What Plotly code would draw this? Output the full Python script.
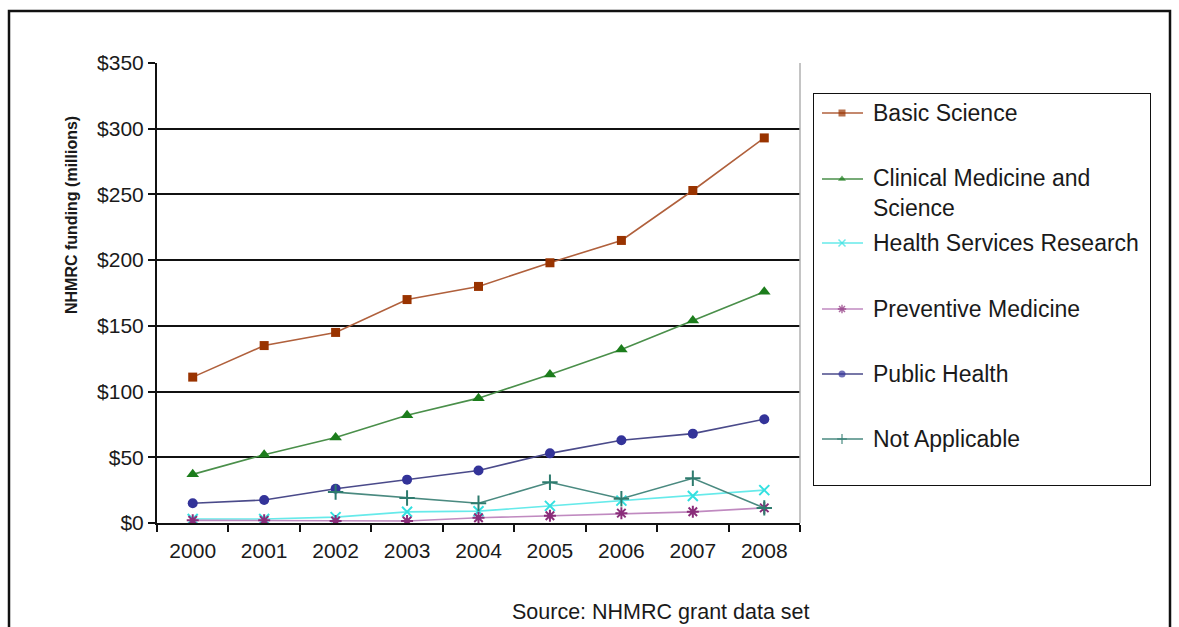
import plotly.graph_objects as go

# NHMRC funding by research area, in $ millions
years = ["2000", "2001", "2002", "2003", "2004", "2005", "2006", "2007", "2008"]
basic_science = [111, 135, 145, 170, 180, 198, 215, 253, 293]
clinical_medicine = [37, 52, 65, 82, 95, 113, 132, 154, 176]
health_services = [3, 3, 4.5, 8.5, 9, 13, 17, 20.5, 25]
preventive_medicine = [2, 2, 1.5, 1.5, 4, 5.5, 7.5, 8.5, 11.5]
public_health = [15, 17.5, 26, 33, 40, 53, 63, 68, 79]
not_applicable = [None, None, 23.5, 19, 15, 31, 18.5, 34, 11.5]

series_names = ["Basic Science", "Clinical Medicine and<br>Science",
                "Health Services Research", "Preventive Medicine",
                "Public Health", "Not Applicable"]
series_values = [basic_science, clinical_medicine, health_services,
                 preventive_medicine, public_health, not_applicable]

y_ticks = [0, 50, 100, 150, 200, 250, 300, 350]
y_tick_labels = ["&#36;" + str(v) for v in y_ticks]

# styling per series: (marker colour, line colour, symbol, size)
styles = [
    ("#993300", "#b0603c", "square", 9),
    ("#1c7d1c", "#4a8f4a", "triangle-up", 11),
    ("#33e0e0", "#66eaea", "x-thin-open", 10),
    ("#8a2d7a", "#c08ac0", "asterisk-open", 10),
    ("#333399", "#4a4a8a", "circle", 10),
    ("#2e7b6e", "#4a8a80", "cross-thin-open", 11),
]

FONT = "Liberation Sans, Arial, sans-serif"
TXT = "#1a1a1a"

W, H = 1179, 627
ML, MR, MT, MB = 157, 28, 63, 104
PW = W - ML - MR
PH = H - MT - MB
plot_right = 800


def px_x(p):
    return (p - ML) / PW


def px_y(p):
    return (H - MB - p) / PH


fig = go.Figure()

for name, vals, (mc, lc, sym, sz) in zip(series_names, series_values, styles):
    open_sym = sym.endswith("open")
    fig.add_trace(go.Scatter(
        x=years, y=vals, mode="lines+markers", name=name.replace("<br>", " "),
        line=dict(color=lc, width=1.6),
        marker=dict(symbol=sym, size=sz, color=mc,
                    line=dict(color=mc, width=2 if open_sym else 0)),
        connectgaps=False, showlegend=False, xaxis="x", yaxis="y",
    ))

# legend drawn on its own pixel-scaled axes
leg_left, leg_right, leg_top, leg_bottom = 813, 1151, 93, 486
key_rows = [113, 179, 243, 309, 374, 439]
text_rows = [113, 193.5, 243, 309, 374, 439]
for i, (name, (mc, lc, sym, sz)) in enumerate(zip(series_names, styles)):
    open_sym = sym.endswith("open")
    fig.add_trace(go.Scatter(
        x=[822, 842, 863], y=[key_rows[i]] * 3, mode="lines+markers",
        line=dict(color=lc, width=1.6),
        marker=dict(symbol=sym, size=[0, 7, 0], color=mc,
                    line=dict(color=mc, width=1.5 if open_sym else 0)),
        showlegend=False, hoverinfo="skip", xaxis="x2", yaxis="y2",
    ))
    fig.add_annotation(x=871, y=text_rows[i], xref="x2", yref="y2",
                       text=name, showarrow=False, xanchor="left",
                       yanchor="middle", align="left",
                       font=dict(family=FONT, size=23, color=TXT))

fig.add_shape(type="rect", xref="x2", yref="y2", x0=leg_left, x1=leg_right,
              y0=leg_top, y1=leg_bottom, line=dict(color="#111", width=2))

# right edge of the plotting area
fig.add_shape(type="line", xref="paper", yref="paper",
              x0=px_x(plot_right), x1=px_x(plot_right), y0=0, y1=1,
              line=dict(color="#b0b0b0", width=1.5))

# outer frame
fig.add_shape(type="rect", xref="paper", yref="paper",
              x0=px_x(9), x1=px_x(1170), y0=px_y(660), y1=px_y(11),
              line=dict(color="#111", width=2.5))

fig.add_annotation(x=px_x(71), y=px_y(215), xref="paper", yref="paper",
                   text="<b>NHMRC funding (millions)</b>", textangle=-90,
                   showarrow=False, xanchor="center", yanchor="middle",
                   font=dict(family=FONT, size=16, color=TXT))

fig.add_annotation(x=px_x(812), y=px_y(612), xref="paper", yref="paper",
                   text="Source: NHMRC grant data set", showarrow=False,
                   xanchor="right", yanchor="middle",
                   font=dict(family=FONT, size=21.5, color=TXT))

fig.update_layout(
    width=W, height=H,
    margin=dict(l=ML, r=MR, t=MT, b=MB),
    paper_bgcolor="white", plot_bgcolor="white",
    showlegend=False,
    xaxis=dict(
        type="category", categoryorder="array", categoryarray=years,
        domain=[0, px_x(plot_right)], range=[-0.5, len(years) - 0.5],
        showgrid=False, showline=True, linecolor="#111", linewidth=2,
        ticks="outside", tickson="boundaries", ticklen=7, tickwidth=1.5,
        tickcolor="#111", tickfont=dict(family=FONT, size=21, color=TXT),
        ticklabelstandoff=8,
        zeroline=False, fixedrange=True,
    ),
    yaxis=dict(
        range=[0, 350], tickmode="array", tickvals=y_ticks,
        ticktext=y_tick_labels,
        showgrid=True, gridcolor="#111", gridwidth=1.8,
        showline=True, linecolor="#111", linewidth=2,
        ticks="outside", ticklen=7, tickwidth=1.5, tickcolor="#111",
        tickfont=dict(family=FONT, size=21, color=TXT),
        zeroline=False, fixedrange=True,
    ),
    xaxis2=dict(domain=[px_x(leg_left), px_x(leg_right)],
                range=[leg_left, leg_right], visible=False, fixedrange=True,
                anchor="y2"),
    yaxis2=dict(domain=[px_y(leg_bottom), px_y(leg_top)],
                range=[leg_bottom, leg_top], visible=False, fixedrange=True,
                anchor="x2"),
)

fig.write_html("out.html")
